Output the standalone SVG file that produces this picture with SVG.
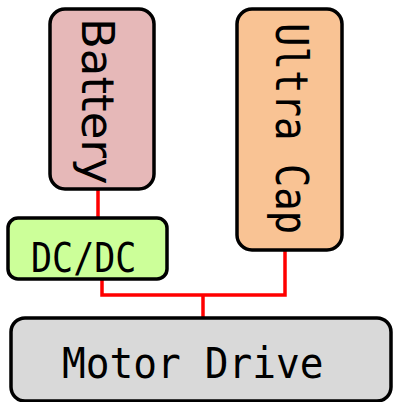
<svg xmlns="http://www.w3.org/2000/svg" width="393" height="402" viewBox="0 0 393 402">
<style>
.box{stroke:#000;stroke-width:3.5}
.wire{fill:none;stroke:#ff0000;stroke-width:3.5}
.mono{font-family:"DejaVu Sans Mono",monospace;fill:#000}
.sans{font-family:"DejaVu Sans",sans-serif;fill:#000}
</style>
<rect width="393" height="402" fill="#fff"/>
<g id="connectors">
<path class="wire" d="M98 190V218"/>
<path class="wire" d="M102 280V295H285V250"/>
<path class="wire" d="M203 295V318"/>
</g>
<g id="battery">
<rect class="box" x="50" y="9" width="104" height="180" rx="15" fill="#e6b8b8"/>
<text class="sans" font-size="45" transform="translate(82,18) rotate(90)">Battery</text>
</g>
<g id="ultracap">
<rect class="box" x="237" y="9" width="105" height="241" rx="15" fill="#f9c394"/>
<text class="mono" font-size="39" transform="translate(276,23) rotate(90) scale(1,1.12)">Ultra Cap</text>
</g>
<g id="dcdc">
<rect class="box" x="8" y="218" width="159" height="61" rx="10" fill="#ccff99"/>
<text class="mono" font-size="35" transform="translate(31,272) scale(1,1.15)">DC/DC</text>
</g>
<g id="motordrive">
<rect class="box" x="11" y="318" width="380" height="83" rx="14" fill="#d9d9d9"/>
<text class="mono" font-size="39.5" transform="translate(62,378) scale(1,1.1)">Motor Drive</text>
</g>
</svg>
